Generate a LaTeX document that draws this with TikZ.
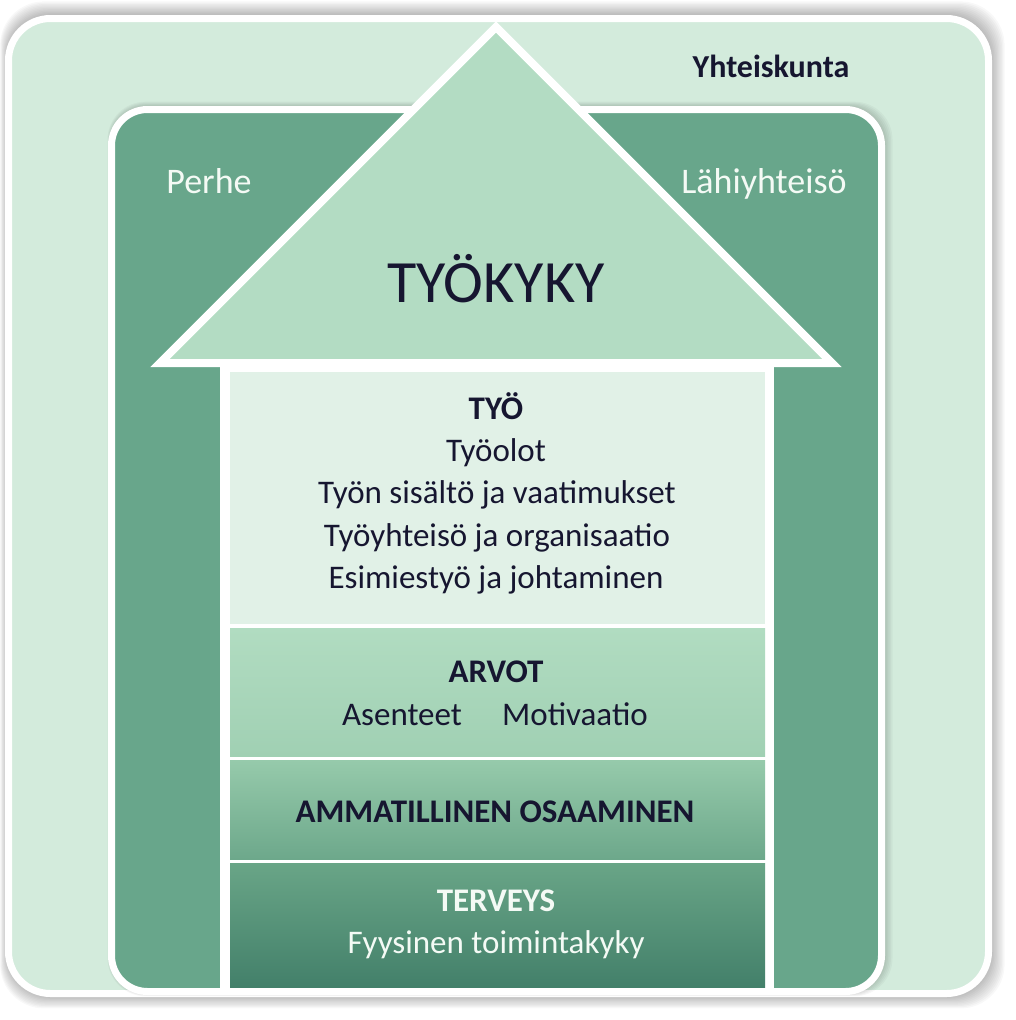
\documentclass[tikz,border=0pt]{standalone}
\usepackage{fontspec}
\setmainfont{Carlito}
\definecolor{outerc}{HTML}{D3EBDC}
\definecolor{innerc}{HTML}{68A68B}
\definecolor{roofc}{HTML}{B3DCC3}
\definecolor{tyoc}{HTML}{E1F1E7}
\definecolor{arvotA}{HTML}{B1DCC1}
\definecolor{arvotB}{HTML}{A0D0B3}
\definecolor{ammA}{HTML}{96CAAB}
\definecolor{ammB}{HTML}{6DA88B}
\definecolor{terA}{HTML}{69A587}
\definecolor{terB}{HTML}{43806A}
\definecolor{darktext}{HTML}{161630}
\definecolor{lighttext}{HTML}{F4FAF5}
\tikzset{
  body/.style={font=\fontsize{33}{40}\selectfont, text=darktext, anchor=base, inner sep=0pt},
  bodybold/.style={body, font=\fontsize{33}{40}\selectfont\bfseries},
  wbody/.style={body, text=lighttext},
  wbodybold/.style={bodybold, text=lighttext},
  ringlabel/.style={font=\fontsize{36}{42}\selectfont, text=lighttext, anchor=base, inner sep=0pt},
}
\begin{document}
\begin{tikzpicture}[x=1pt,y=-1pt]
\useasboundingbox (0,0) rectangle (1016,1020);
% soft shadow of the outer frame
\foreach \i in {1,...,12}{
  \fill[black,opacity=0.028,rounded corners=44pt] (8.5-\i*0.7,17-\i*1.3) rectangle (989+\i*1.3,994+\i*1.2);
}
% Yhteiskunta frame
\path[fill=outerc, draw=white, line width=7pt, rounded corners=42pt] (8.5,18.5) rectangle (988.5,993.5);
% soft shadow of the inner frame
\foreach \i in {1,...,7}{
  \fill[black,opacity=0.03,rounded corners=38pt] (111-\i*0.5,108-\i*0.9) rectangle (882+\i*1.5,992+\i*0.6);
}
% Perhe / Lähiyhteisö frame
\path[fill=innerc, draw=white, line width=7pt, rounded corners=36pt] (111.5,109.5) rectangle (881.5,991.5);
% house body
\fill[white] (220,360) rectangle (774,992);
\fill[tyoc] (230,372) rectangle (765,624);
\shade[top color=arvotA, bottom color=arvotB] (230,628) rectangle (765,756);
\shade[top color=ammA, bottom color=ammB] (230,760) rectangle (765,859);
\shade[top color=terA, bottom color=terB] (230,863) rectangle (765,987);
% roof
\path[fill=roofc, draw=white, line width=8pt, line join=miter] (496,27) -- (832,363) -- (160,363) -- cycle;
% labels
\node[font=\fontsize{32}{38}\selectfont\bfseries, text=darktext, anchor=base, inner sep=0pt] (yht) at (771,77) {Yhteiskunta};
\node[ringlabel] (perhe) at (209,193) {Perhe};
\node[ringlabel] (lahi) at (764,193) {Lähiyhteisö};
\node[font=\fontsize{60}{70}\selectfont, text=darktext, anchor=base, inner sep=0pt] (tyokyky) at (496,302) {TYÖKYKY};
\node[bodybold] (tyo) at (496,419) {TYÖ};
\node[body] (tyoolot) at (496,461) {Työolot};
\node[body] (sisalto) at (497,503) {Työn sisältö ja vaatimukset};
\node[body] (yhteiso) at (497,546) {Työyhteisö ja organisaatio};
\node[body] (esimies) at (496,588) {Esimiestyö ja johtaminen};
\node[bodybold] (arvot) at (496,682) {ARVOT};
\node[body] (asenteet) at (402,725) {Asenteet};
\node[body] (motiv) at (575,725) {Motivaatio};
\node[bodybold] (amm) at (495,822) {AMMATILLINEN OSAAMINEN};
\node[wbodybold] (terveys) at (496,911) {TERVEYS};
\node[wbody] (fyys) at (496,953) {Fyysinen toimintakyky};
\end{tikzpicture}
\end{document}
